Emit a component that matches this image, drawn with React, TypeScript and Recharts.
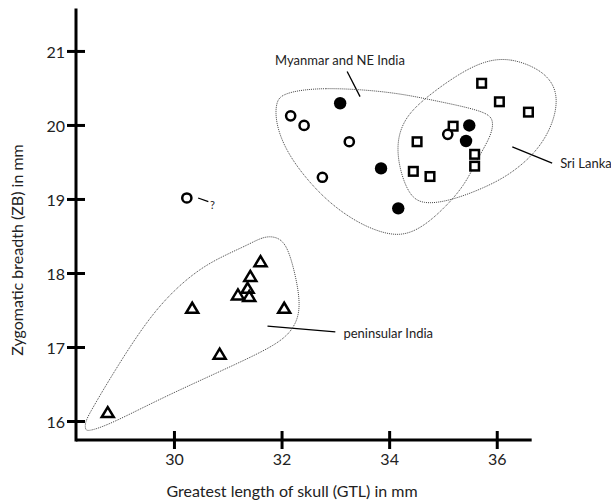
import { ScatterChart, Scatter, XAxis, YAxis, ReferenceLine, ReferenceDot } from "recharts";

// open circles (unassigned specimens)
const openCircles = [
  { x: 32.16, y: 20.13 },
  { x: 32.41, y: 20.0 },
  { x: 33.25, y: 19.78 },
  { x: 32.75, y: 19.3 },
  { x: 35.08, y: 19.88 },
  { x: 30.23, y: 19.02 },
];

// filled circles
const filledCircles = [
  { x: 33.08, y: 20.3 },
  { x: 33.84, y: 19.42 },
  { x: 34.16, y: 18.88 },
  { x: 35.48, y: 20.0 },
  { x: 35.42, y: 19.79 },
];

// open squares
const squares = [
  { x: 35.71, y: 20.57 },
  { x: 36.04, y: 20.32 },
  { x: 36.58, y: 20.18 },
  { x: 35.18, y: 19.99 },
  { x: 34.51, y: 19.78 },
  { x: 35.58, y: 19.61 },
  { x: 35.58, y: 19.45 },
  { x: 34.44, y: 19.38 },
  { x: 34.75, y: 19.31 },
];

// open triangles
const triangles = [
  { x: 28.76, y: 16.12 },
  { x: 30.33, y: 17.53 },
  { x: 30.84, y: 16.91 },
  { x: 31.18, y: 17.71 },
  { x: 31.36, y: 17.8 },
  { x: 31.39, y: 17.69 },
  { x: 31.41, y: 17.96 },
  { x: 31.6, y: 18.16 },
  { x: 32.04, y: 17.53 },
];

// dotted outlines around groups
const myanmarHull = [
  { x: 32.02, y: 20.44 }, { x: 32.71, y: 20.52 }, { x: 34.01, y: 20.46 },
  { x: 34.81, y: 20.34 }, { x: 35.81, y: 20.19 }, { x: 35.94, y: 20.06 },
  { x: 35.88, y: 19.85 }, { x: 35.64, y: 19.56 }, { x: 35.39, y: 19.18 },
  { x: 34.96, y: 18.84 }, { x: 34.58, y: 18.61 }, { x: 34.2, y: 18.5 },
  { x: 33.75, y: 18.57 }, { x: 33.25, y: 18.75 }, { x: 32.69, y: 19.07 },
  { x: 32.12, y: 19.58 }, { x: 31.88, y: 20.01 }, { x: 31.88, y: 20.32 },
];

const sriLankaHull = [
  { x: 35.74, y: 20.87 }, { x: 36.24, y: 20.92 }, { x: 36.87, y: 20.74 },
  { x: 37.14, y: 20.45 }, { x: 37.06, y: 20.05 }, { x: 36.76, y: 19.66 },
  { x: 36.25, y: 19.34 }, { x: 35.74, y: 19.15 }, { x: 35.12, y: 18.98 },
  { x: 34.6, y: 18.93 }, { x: 34.35, y: 19.07 }, { x: 34.17, y: 19.44 },
  { x: 34.13, y: 19.81 }, { x: 34.31, y: 20.14 }, { x: 34.73, y: 20.41 },
  { x: 35.25, y: 20.68 },
];

const peninsularHull = [
  { x: 31.35, y: 18.38 }, { x: 31.65, y: 18.5 }, { x: 31.89, y: 18.5 },
  { x: 32.08, y: 18.4 }, { x: 32.23, y: 18.05 }, { x: 32.36, y: 17.55 },
  { x: 32.23, y: 17.26 }, { x: 31.92, y: 17.04 }, { x: 30.98, y: 16.72 },
  { x: 29.74, y: 16.31 }, { x: 28.8, y: 15.96 }, { x: 28.38, y: 15.86 },
  { x: 28.34, y: 15.9 }, { x: 28.34, y: 16.0 }, { x: 28.47, y: 16.17 },
  { x: 28.79, y: 16.57 }, { x: 29.58, y: 17.48 }, { x: 30.28, y: 17.97 },
  { x: 30.79, y: 18.2 },
];

// annotation texts and leader lines
const notes = [
  { x: 31.87, y: 20.89, text: "Myanmar and NE India" },
  { x: 37.17, y: 19.49, text: "Sri Lanka" },
  { x: 33.14, y: 17.2, text: "peninsular India" },
  { x: 30.66, y: 18.93, text: "?" },
];

const leaders = [
  [{ x: 33.21, y: 20.73 }, { x: 33.45, y: 20.39 }],
  [{ x: 36.28, y: 19.71 }, { x: 37.02, y: 19.49 }],
  [{ x: 31.73, y: 17.29 }, { x: 32.99, y: 17.21 }],
  [{ x: 30.44, y: 19.02 }, { x: 30.63, y: 18.97 }],
];

const xTicks = [30, 32, 34, 36];
const yTicks = [16, 17, 18, 19, 20, 21];
const xMin = 28.17;
const xAxisEnd = 36.64;
const xMax = 37.91;
const yMin = 15.75;
const yMax = 21.56;

const FONT = "Lato, 'Open Sans', sans-serif";

const YTick = (props: any) => {
  const { x, y, payload } = props;
  return (
    <g>
      <line x1={x + 2} x2={x + 20} y1={y} y2={y} stroke="#000" strokeWidth={3} />
      <text x={x} y={y} textAnchor="end" dominantBaseline="central" fontFamily={FONT} fontSize={16} fill="#222">
        {payload.value}
      </text>
    </g>
  );
};

const XTick = (props: any) => {
  const { x, y, payload } = props;
  return (
    <g>
      <line x1={x} x2={x} y1={y - 20} y2={y - 2} stroke="#000" strokeWidth={3} />
      <text x={x} y={y + 14} textAnchor="middle" fontFamily={FONT} fontSize={16} fill="#222">
        {payload.value}
      </text>
    </g>
  );
};

const OpenCircle = (p: any) => (
  <circle cx={p.cx} cy={p.cy} r={4.6} fill="#fff" stroke="#000" strokeWidth={2.5} />
);
const FilledCircle = (p: any) => <circle cx={p.cx} cy={p.cy} r={6.2} fill="#000" />;
const OpenSquare = (p: any) => (
  <rect x={p.cx - 4.3} y={p.cy - 4.3} width={8.6} height={8.6} fill="#fff" stroke="#000" strokeWidth={2.5} />
);
const OpenTriangle = (p: any) => (
  <path
    d={`M${p.cx},${p.cy - 5.5}L${p.cx + 6},${p.cy + 4.5}L${p.cx - 6},${p.cy + 4.5}Z`}
    fill="none"
    stroke="#000"
    strokeWidth={2.5}
  />
);
const NoDot = () => <g />;

const hullLine = { stroke: "#444", strokeWidth: 1, strokeDasharray: "1 1" };

export default function App() {
  return (
    <div style={{ position: "absolute", left: 0, top: 0, background: "#fff" }}>
      <ScatterChart width={611} height={503} margin={{ top: 10, right: 11, bottom: 0, left: 0 }}>
        <XAxis
          type="number"
          dataKey="x"
          domain={[xMin, xMax]}
          ticks={xTicks}
          axisLine={false}
          tickLine={false}
          tickSize={9}
          tickMargin={2}
          tick={<XTick />}
          height={63}
          label={{
            content: () => (
              <text x={292} y={497} textAnchor="middle" fontFamily={FONT} fontSize={16} fill="#222">
                Greatest length of skull (GTL) in mm
              </text>
            ),
          }}
        />
        <YAxis
          type="number"
          dataKey="y"
          domain={[yMin, yMax]}
          ticks={yTicks}
          axisLine={{ stroke: "#000", strokeWidth: 3, strokeLinecap: "square" }}
          tickLine={false}
          tickSize={9}
          tickMargin={2}
          tick={<YTick />}
          width={76}
          label={{
            content: () => (
              <text
                transform="translate(23,250) rotate(-90)"
                textAnchor="middle"
                fontFamily={FONT}
                fontSize={16}
                fill="#222"
              >
                Zygomatic breadth (ZB) in mm
              </text>
            ),
          }}
        />
        <ReferenceLine
          segment={[{ x: xMin, y: yMin }, { x: xAxisEnd, y: yMin }]}
          stroke="#000"
          strokeWidth={3}
          ifOverflow="visible"
        />
        {leaders.map((s, i) => (
          <ReferenceLine key={i} segment={s} stroke="#000" strokeWidth={1.3} ifOverflow="visible" />
        ))}
        <Scatter data={myanmarHull} line={hullLine} lineJointType="basisClosed" shape={NoDot} isAnimationActive={false} />
        <Scatter data={sriLankaHull} line={hullLine} lineJointType="basisClosed" shape={NoDot} isAnimationActive={false} />
        <Scatter data={peninsularHull} line={hullLine} lineJointType="basisClosed" shape={NoDot} isAnimationActive={false} />
        <Scatter data={triangles} shape={OpenTriangle} isAnimationActive={false} />
        <Scatter data={squares} shape={OpenSquare} isAnimationActive={false} />
        <Scatter data={filledCircles} shape={FilledCircle} isAnimationActive={false} />
        <Scatter data={openCircles} shape={OpenCircle} isAnimationActive={false} />
        {notes.map((n, i) => (
          <ReferenceDot
            key={i}
            x={n.x}
            y={n.y}
            r={0}
            ifOverflow="visible"
            shape={(p: any) => (
              <text
                x={p.cx}
                y={p.cy}
                dominantBaseline="central"
                fontFamily={FONT}
                fontSize={n.text === "?" ? 11 : 13}
                fill="#222"
              >
                {n.text}
              </text>
            )}
          />
        ))}
      </ScatterChart>
    </div>
  );
}
